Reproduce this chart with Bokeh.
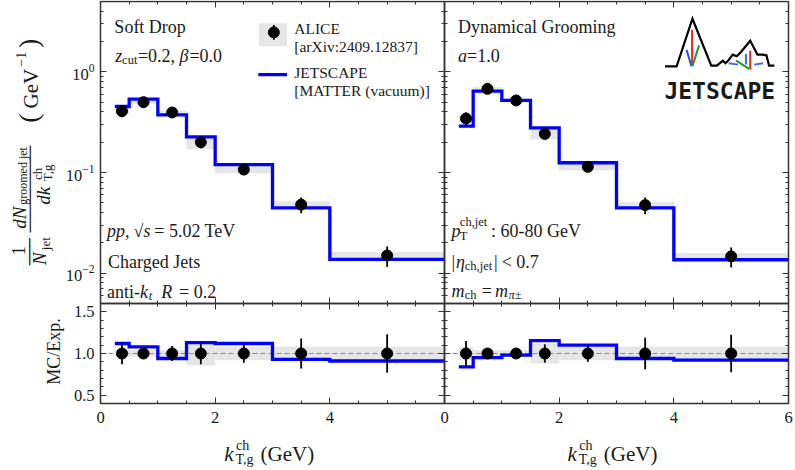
import math
from bokeh.plotting import figure
from bokeh.models import (Range1d, LinearAxis, LogAxis, FixedTicker, Label, LinearScale,
                          CustomJSTickFormatter, NumeralTickFormatter)
from bokeh.embed import file_html
from bokeh.resources import INLINE

# ---------------- data ----------------
bin_edges = [0.25, 0.5, 1.0, 1.5, 2.0, 3.0, 4.0, 6.0]
bin_centers = [0.375, 0.75, 1.25, 1.75, 2.5, 3.5, 5.0]

sd_alice = [0.407, 0.500, 0.395, 0.200, 0.107, 0.048, 0.0150]
sd_stat_rel = [0.13, 0.05, 0.09, 0.13, 0.11, 0.18, 0.23]
sd_sys_rel = [0.05, 0.04, 0.04, 0.143, 0.08, 0.08, 0.08]
sd_jetscape = [0.453, 0.536, 0.374, 0.226, 0.120, 0.0446, 0.0137]
sd_ratio = [1.12, 1.08, 0.94, 1.13, 1.12, 0.93, 0.91]

dg_alice = [0.344, 0.678, 0.520, 0.242, 0.114, 0.0475, 0.0147]
dg_stat_rel = [0.15, 0.04, 0.05, 0.11, 0.10, 0.19, 0.225]
dg_sys_rel = [0.08, 0.04, 0.04, 0.12, 0.08, 0.08, 0.08]
dg_jetscape = [0.289, 0.643, 0.520, 0.278, 0.125, 0.0446, 0.0136]
dg_ratio = [0.84, 0.95, 0.98, 1.155, 1.10, 0.94, 0.92]

x_tick_labels = [0, 2, 4, 6]
log_ticks = [0.01, 0.1, 1.0]
ratio_ticks = [0.5, 1.0, 1.5]
X_PANEL = (0.0, 6.0)          # each panel's k_T range
Y_TOP = (0.005, 5.0)          # spectra panel range
Y_RAT = (0.4, 1.6)            # ratio panel range

# ---------------- style / geometry ----------------
FONT = "Liberation Serif"
MONO = "DejaVu Sans Mono"
INK = "#1a1a1a"
FRAME = "#333333"
BLUE = "#0000ff"
GRAY = "#e6e6e6"
FS = 18                       # main annotation font size
FSS = 12.5                    # sub/superscript size

W, H = 795, 468
X0, FW = 100, 688             # panel area left / width (two panels)
PT, FH_TOP, FH_RAT = 1, 302, 100
TOP_BOT = PT + FH_TOP
RAT_BOT = TOP_BOT + FH_RAT
SX = (FW / 2) / 347.3         # reference px -> our px
SY = FH_TOP / 303.0

XSPAN = 2 * (X_PANEL[1] - X_PANEL[0])
x_start = -X0 / FW * XSPAN
x_end = (W - X0) / FW * XSPAN
lt, lb = math.log10(Y_TOP[1]), math.log10(Y_TOP[0])
dpx = (lt - lb) / FH_TOP
r_per_px = (Y_RAT[1] - Y_RAT[0]) / FH_RAT

p = figure(width=W, height=H,
           x_range=Range1d(x_start, x_end),
           y_range=Range1d(10 ** (lb - (H - TOP_BOT) * dpx), 10 ** (lt + PT * dpx)),
           y_axis_type="log",
           extra_x_ranges={"dg": Range1d(x_start - X_PANEL[1], x_end - X_PANEL[1])},
           extra_y_ranges={"rat": Range1d(Y_RAT[0] - (H - RAT_BOT) * r_per_px,
                                          Y_RAT[1] + TOP_BOT * r_per_px)},
           extra_y_scales={"rat": LinearScale()},
           x_axis_location=None, y_axis_location=None,
           output_backend="svg", toolbar_location=None,
           min_border_left=0, min_border_right=0, min_border_top=0, min_border_bottom=0)
p.grid.visible = False
p.outline_line_color = None
p.background_fill_color = "white"
p.border_fill_color = "white"


def style_axis(ax, ticks, minor, labels=False, size="16.5px", standoff=6):
    ax.ticker = FixedTicker(ticks=ticks, minor_ticks=minor)
    ax.major_tick_in = 6
    ax.major_tick_out = 0
    ax.minor_tick_in = 3
    ax.minor_tick_out = 0
    ax.major_tick_line_color = FRAME
    ax.minor_tick_line_color = FRAME
    ax.axis_line_color = None
    ax.major_label_text_font = FONT
    ax.major_label_text_font_size = size
    ax.major_label_text_color = INK
    ax.major_label_standoff = standoff
    if not labels:
        ax.formatter = CustomJSTickFormatter(code="return ''")


def add_axis(side, cls, loc, ticks, minor, labels=False, xr="default", yr="default", standoff=6):
    ax = cls(fixed_location=loc, x_range_name=xr, y_range_name=yr)
    style_axis(ax, ticks, minor, labels=labels, standoff=standoff)
    p.add_layout(ax, side)
    return ax


x_major_all = [0, 2, 4, 6, 8, 10, 12]
x_minor_all = [i * 0.5 for i in range(25) if (i * 0.5) % 2 != 0]
x_minor_half = [v for v in x_minor_all if v < 6]
log_minor = [m * 10.0 ** e for e in (-3, -2, -1, 0) for m in range(2, 10)
             if Y_TOP[0] <= m * 10.0 ** e <= Y_TOP[1]]
ratio_minor = [round(0.4 + 0.1 * i, 2) for i in range(13)]
ratio_minor = [v for v in ratio_minor if v not in ratio_ticks]


def draw_panel(rn, alice, stat, sys, js, ratio):
    lefts, rights = bin_edges[:-1], bin_edges[1:]
    # spectra
    p.quad(left=lefts, right=rights,
           bottom=[a * (1 - s) for a, s in zip(alice, sys)],
           top=[a * (1 + s) for a, s in zip(alice, sys)],
           fill_color=GRAY, line_color=None, x_range_name=rn)
    p.step(x=bin_edges, y=js + [js[-1]], mode="after", line_color=BLUE,
           line_width=3.3, line_join="miter", x_range_name=rn)
    p.segment(x0=bin_centers, x1=bin_centers,
              y0=[a * (1 - e) for a, e in zip(alice, stat)],
              y1=[a * (1 + e) for a, e in zip(alice, stat)],
              line_color="black", line_width=1.8, x_range_name=rn)
    p.scatter(bin_centers, alice, size=11, color="black", x_range_name=rn)
    # ratio
    ones = [a / a for a in alice]
    p.quad(left=lefts, right=rights,
           bottom=[o - s for o, s in zip(ones, sys)],
           top=[o + s for o, s in zip(ones, sys)],
           fill_color=GRAY, line_color=None, x_range_name=rn, y_range_name="rat")
    p.segment(x0=[X_PANEL[0]], x1=[X_PANEL[1]], y0=[1.0], y1=[1.0], line_color="#8c8c8c",
              line_width=1, line_dash="5 3", x_range_name=rn, y_range_name="rat")
    p.step(x=bin_edges, y=ratio + [ratio[-1]], mode="after", line_color=BLUE,
           line_width=3.3, line_join="miter", x_range_name=rn, y_range_name="rat")
    p.segment(x0=bin_centers, x1=bin_centers,
              y0=[o - e for o, e in zip(ones, stat)],
              y1=[o + e for o, e in zip(ones, stat)],
              line_color="black", line_width=1.8, x_range_name=rn, y_range_name="rat")
    p.scatter(bin_centers, ones, size=11, color="black", x_range_name=rn, y_range_name="rat")


draw_panel("default", sd_alice, sd_stat_rel, sd_sys_rel, sd_jetscape, sd_ratio)
draw_panel("dg", dg_alice, dg_stat_rel, dg_sys_rel, dg_jetscape, dg_ratio)

# panel frames
for rn in ("default", "dg"):
    p.quad(left=[X_PANEL[0]], right=[X_PANEL[1]], bottom=[Y_TOP[0]], top=[Y_TOP[1]],
           fill_color=None, line_color=FRAME, line_width=1.5, x_range_name=rn)
    p.quad(left=[X_PANEL[0]], right=[X_PANEL[1]], bottom=[Y_RAT[0]], top=[Y_RAT[1]],
           fill_color=None, line_color=FRAME, line_width=1.5, x_range_name=rn, y_range_name="rat")

# axes (all drawn at fixed places, ticks pointing inward)
add_axis("left", LogAxis, 0, log_ticks, log_minor, labels=True)
for side, loc in (("left", 6), ("right", 6), ("right", 12)):
    add_axis(side, LogAxis, loc, log_ticks, log_minor)
add_axis("above", LinearAxis, Y_TOP[1], x_major_all, x_minor_all)
add_axis("below", LinearAxis, Y_TOP[0], x_major_all, x_minor_all)

ax = add_axis("left", LinearAxis, 0, ratio_ticks, ratio_minor, labels=True, yr="rat")
ax.formatter = NumeralTickFormatter(format="0.0")
for side, loc in (("left", 6), ("right", 6), ("right", 12)):
    add_axis(side, LinearAxis, loc, ratio_ticks, ratio_minor, yr="rat")
add_axis("above", LinearAxis, Y_RAT[1], x_major_all, x_minor_all, yr="rat")
add_axis("below", LinearAxis, Y_RAT[0], x_tick_labels[:3], x_minor_half, labels=True,
         yr="rat", standoff=8)
add_axis("below", LinearAxis, Y_RAT[0], x_tick_labels, x_minor_half, labels=True,
         xr="dg", yr="rat", standoff=8)


# ---------------- text helpers (reference pixel positions -> screen) ----------------
def to_px(rx, ry):
    px = X0 + (rx - 101.7) * SX
    if ry < 303:
        py = PT + ry * SY
    else:
        py = TOP_BOT + (ry - 303) * (FH_RAT / 100.0)
    return px, py


def T(rx, ry, text, size, italic=False, align="left", baseline="alphabetic",
      angle=0.0, font=FONT, bold=False):
    px, py = to_px(rx, ry)
    style = "bold" if bold else ("italic" if italic else "normal")
    p.add_layout(Label(x=px, y=H - py, x_units="screen", y_units="screen", text=text,
                       text_font=font, text_font_size=f"{size:.1f}px",
                       text_font_style=style, text_color=INK,
                       text_align=align, text_baseline=baseline, angle=angle))


def ref_to_data(rx, ry):
    px, py = to_px(rx, ry)
    x = (px - X0) / FW * XSPAN
    return x, 10 ** (lt - (py - PT) * dpx)


# left panel texts
T(115.7, 26, "Soft Drop", FS)
T(116.7, 54.3, "z", FS, italic=True)
T(123.5, 58.5, "cut", FSS)
T(139.5, 54.3, "=0.2,", FS)
T(181.5, 54.3, "β", FS, italic=True)
T(191.5, 54.3, "=0.0", FS)
T(108.3, 230, "pp,", FS, italic=True)
T(135.0, 230, "√", FS)
T(145.0, 230, "s", FS, italic=True)
T(156.0, 230, "= 5.02 TeV", FS)
T(109.3, 261.5, "Charged Jets", FS)
T(108.3, 291.5, "anti-", FS)
T(141.5, 291.5, "k", FS, italic=True)
T(150.5, 295.0, "t", FSS, italic=True)
T(163.0, 291.5, "R", FS, italic=True)
T(181.0, 291.5, "= 0.2", FS)

# legend
x0, y0 = ref_to_data(261.7, 21.7)
x1, y1 = ref_to_data(290.0, 45.0)
p.quad(left=[x0], right=[x1], top=[y0], bottom=[y1], fill_color=GRAY, line_color=None)
xe, ya = ref_to_data(276.7, 23.5)
_, yb = ref_to_data(276.7, 38.5)
p.segment(x0=[xe], x1=[xe], y0=[ya], y1=[yb], line_color="black", line_width=1.8)
_, yc = ref_to_data(276.7, 31)
p.scatter([xe], [yc], size=11, color="black")
xl0, yl = ref_to_data(261.0, 73.3)
xl1, _ = ref_to_data(290.0, 73.3)
p.segment(x0=[xl0], x1=[xl1], y0=[yl], y1=[yl], line_color=BLUE, line_width=3.3)
T(297.3, 27.3, "ALICE", 15.5)
T(297.3, 45.0, "[arXiv:2409.12837]", 15.5)
T(297.3, 71.7, "JETSCAPE", 15.5)
T(297.3, 89.3, "[MATTER (vacuum)]", 15.5)

# right panel texts
T(462.7, 26, "Dynamical Grooming", FS)
T(462.7, 54.3, "a", FS, italic=True)
T(471.7, 54.3, "=1.0", FS)
T(456.0, 230, "p", FS, italic=True)
T(464.5, 221.5, "ch,jet", FSS)
T(464.5, 235.0, "T", FSS)
T(496.0, 230, ": 60-80 GeV", FS)
T(456.0, 261.0, "|", FS)
T(460.5, 261.0, "η", FS, italic=True)
T(469.5, 265.0, "ch,jet", FSS)
T(499.0, 261.0, "|", FS)
T(506.7, 261.0, "< 0.7", FS)
T(456.0, 290.5, "m", FS, italic=True)
T(469.5, 294.5, "ch", FSS)
T(486.5, 290.5, "=", FS)
T(500.0, 290.5, "m", FS, italic=True)
T(513.5, 294.5, "π±", FSS, italic=True)

# JETSCAPE logo (decoration)
logo_black = [(125, 195), (160, 195), (208, 52), (265, 193), (282, 193), (300, 178),
              (308, 186), (318, 176), (330, 160), (342, 165), (355, 152), (383, 118),
              (405, 160), (420, 160), (432, 162), (440, 193), (456, 193)]
logo_cols = [("#e8261c", [(207, 85), (207, 192)]), ("#2a4fe0", [(190, 145), (205, 195)]),
             ("#1f9a2a", [(228, 132), (208, 195)]), ("#e8261c", [(383, 148), (383, 205)]),
             ("#1f9a2a", [(340, 178), (380, 203)]), ("#3d6cf0", [(318, 186), (346, 190)]),
             ("#3d6cf0", [(395, 190), (422, 186)]), ("#3d6cf0", [(370, 158), (370, 190)])]


def logo_xy(pts):
    xs, ys = [], []
    for zx, zy in pts:
        dx, dy = ref_to_data(630 + zx / 3, zy / 3)
        xs.append(dx)
        ys.append(dy)
    return xs, ys


lx, ly = logo_xy(logo_black)
p.line(lx, ly, line_color="black", line_width=2.2, line_join="miter")
for col, pts in logo_cols:
    cx, cy = logo_xy(pts)
    p.line(cx, cy, line_color=col, line_width=2.0)
T(671.0, 90.0, "JETSCAPE", 23, font=MONO, bold=True)

# y-axis label of the spectra panel (rotated pieces)
R = math.pi / 2
C = dict(align="center", baseline="middle", angle=R)
T(19.0, 250, "1", 19, **C)
T(31.0, 251, "─" * 3, 15, font=MONO, **C)
T(40.5, 258, "N", 19, italic=True, **C)
T(46.5, 243, "jet", 13, **C)
T(31.0, 188.3, "─" * 10, 14.4, font=MONO, **C)
T(19.5, 217, "dN", 19, italic=True, **C)
T(23.0, 175, "groomed jet", 12, **C)
T(44.5, 195, "dk", 19, italic=True, **C)
T(38.0, 173, "ch", 13, **C)
T(48.5, 172, "T,g", 13, **C)
T(29.5, 117, "(", 28, **C)
T(31.5, 87.5, "GeV", 21, **C)
T(21.5, 58, "−1", 14, **C)
T(29.5, 42, ")", 28, **C)

# ratio panel labels
T(55.0, 351, "MC/Exp.", 18, **C)
for off in (0.0, 346.6):
    T(226.7 + off, 453, "k", 21, italic=True)
    T(238.5 + off, 444.5, "ch", 14)
    T(238.0 + off, 458.5, "T,g", 14)
    T(263.3 + off, 453, "(GeV)", 21)

open("out.html", "w").write(file_html(p, INLINE))
